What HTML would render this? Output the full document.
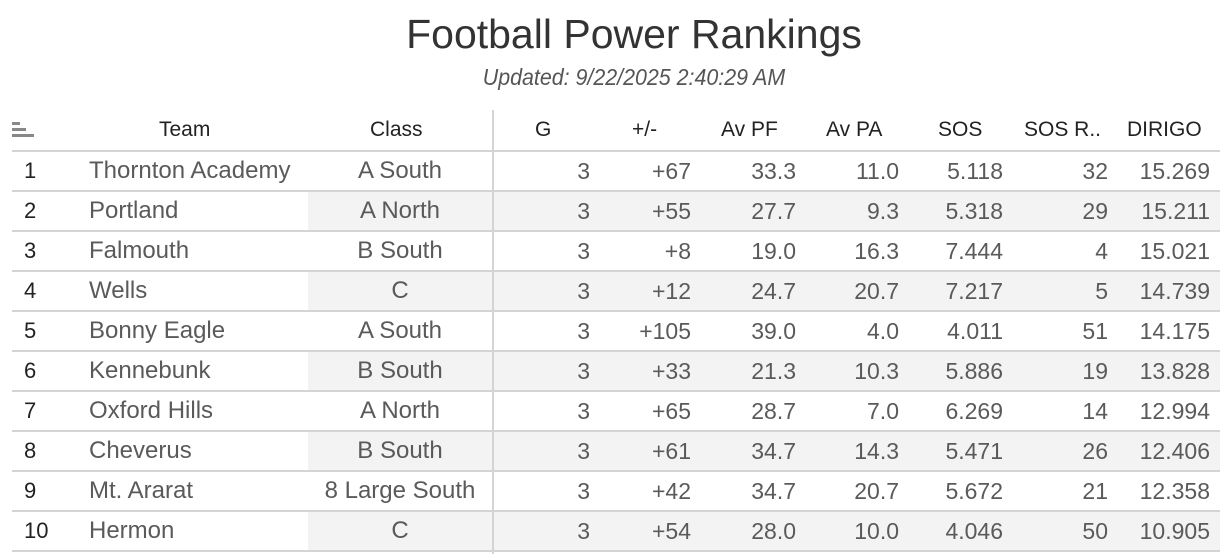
<!DOCTYPE html>
<html><head><meta charset="utf-8"><style>
body{margin:0;width:1222px;height:554px;background:#fff;font-family:"Liberation Sans",sans-serif;color:#333;position:relative;overflow:hidden}
.t{position:absolute;white-space:nowrap}
.title{left:0;width:1268px;text-align:center;top:11px;font-size:41px;color:#333}
.sub{left:0;width:1268px;text-align:center;top:64px;font-size:23px;font-style:italic;color:#555;transform:scaleX(0.93)}
.h{font-size:21px;color:#222;top:118px;font-family:"Liberation Sans Narrow","Liberation Sans",sans-serif}
.band{position:absolute;left:308px;width:912px;height:39px;background:#f3f3f3}
.line{position:absolute;left:12px;width:1208px;height:2px;background:#d4d4d4}
.c{position:absolute;font-size:24px;color:#5a5a5a}
.n{font-family:"Liberation Sans Narrow","Liberation Sans",sans-serif;font-size:23px}
</style></head><body>
<div class="t title">Football Power Rankings</div>
<div class="t sub">Updated: 9/22/2025 2:40:29 AM</div>
<div style="position:absolute;left:12px;top:122px;width:8px;height:3px;background:#888"></div>
<div style="position:absolute;left:12px;top:128px;width:14px;height:3px;background:#888"></div>
<div style="position:absolute;left:12px;top:134px;width:22px;height:3px;background:#888"></div>
<div class="t h" style="left:159px;font-family:'Liberation Sans',sans-serif">Team</div>
<div class="t h" style="left:370px;font-family:'Liberation Sans',sans-serif">Class</div>
<div class="t h" style="left:535px">G</div>
<div class="t h" style="left:632px">+/-</div>
<div class="t h" style="left:721px">Av PF</div>
<div class="t h" style="left:826px">Av PA</div>
<div class="t h" style="left:938px">SOS</div>
<div class="t h" style="left:1024px">SOS R..</div>
<div class="t h" style="left:1127px">DIRIGO</div>
<div id="rows"></div>
<div style="position:absolute;left:492px;top:110px;width:2px;height:444px;background:#d4d4d4;z-index:5"></div>
<script>
var d=[["1","Thornton Academy","A South","3","+67","33.3","11.0","5.118","32","15.269"],
["2","Portland","A North","3","+55","27.7","9.3","5.318","29","15.211"],
["3","Falmouth","B South","3","+8","19.0","16.3","7.444","4","15.021"],
["4","Wells","C","3","+12","24.7","20.7","7.217","5","14.739"],
["5","Bonny Eagle","A South","3","+105","39.0","4.0","4.011","51","14.175"],
["6","Kennebunk","B South","3","+33","21.3","10.3","5.886","19","13.828"],
["7","Oxford Hills","A North","3","+65","28.7","7.0","6.269","14","12.994"],
["8","Cheverus","B South","3","+61","34.7","14.3","5.471","26","12.406"],
["9","Mt. Ararat","8 Large South","3","+42","34.7","20.7","5.672","21","12.358"],
["10","Hermon","C","3","+54","28.0","10.0","4.046","50","10.905"]];
var rights=[590,691,796,899,1003,1108,1210],h='';
h+='<div class="line" style="top:150px"></div>';
for(var i=0;i<10;i++){var y=152+i*40;
if(i%2==1)h+='<div class="band" style="top:'+y+'px"></div>';
h+='<div class="line" style="top:'+(y+38)+'px"></div>';
var ty=y+5;
h+='<div class="c" style="left:24px;top:'+(ty+1)+'px;color:#222;font-size:22px">'+d[i][0]+'</div>';
h+='<div class="c" style="left:89px;top:'+ty+'px">'+d[i][1]+'</div>';
h+='<div class="c" style="left:300px;width:200px;text-align:center;top:'+ty+'px">'+d[i][2]+'</div>';
for(var j=0;j<7;j++)h+='<div class="c n" style="right:'+(1222-rights[j])+'px;top:'+(ty+1)+'px">'+d[i][3+j]+'</div>';
}
document.getElementById('rows').innerHTML=h;
</script>
</body></html>
